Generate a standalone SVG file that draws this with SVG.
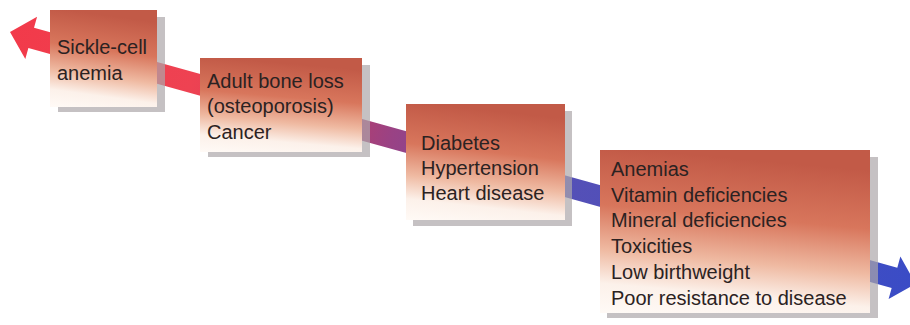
<svg xmlns="http://www.w3.org/2000/svg" width="910" height="325" viewBox="0 0 910 325">
<defs>
<linearGradient id="arrowGrad" gradientUnits="userSpaceOnUse" x1="0" y1="0" x2="940" y2="0">
<stop offset="0" stop-color="#f23a4a"/>
<stop offset="0.2" stop-color="#ee4252"/>
<stop offset="0.33" stop-color="#cc3a5a"/>
<stop offset="0.42" stop-color="#9a4284"/>
<stop offset="0.6" stop-color="#5650b6"/>
<stop offset="1" stop-color="#3a4cc6"/>
</linearGradient>
<linearGradient id="boxGrad" x1="0.15" y1="0" x2="0" y2="1">
<stop offset="0" stop-color="#c25a47"/>
<stop offset="0.35" stop-color="#d8765c"/>
<stop offset="0.62" stop-color="#efbaa2"/>
<stop offset="0.82" stop-color="#fcf1ea"/>
<stop offset="1" stop-color="#fffaf6"/>
</linearGradient>
<style>
.box{fill:url(#boxGrad);}
.shadow{fill:#aca6a9;opacity:0.7;}
.label{font-family:"Liberation Sans",Arial,sans-serif;font-size:20px;fill:#2b2222;}
</style>
</defs>
<g id="connectors">
<polygon transform="translate(10,32) rotate(15.53)" fill="url(#arrowGrad)" points="0,0 22,-22 22,-10.5 918,-10.5 918,-22 940,0 918,22 918,10.5 22,10.5 22,22"/>
</g>
<g id="node-sickle">
<rect class="shadow" x="58" y="17" width="107" height="95"/>
<rect class="box" x="50" y="10" width="107" height="97"/>
<text class="label" x="57" y="54">Sickle-cell</text>
<text class="label" x="57" y="80">anemia</text>
</g>
<g id="node-bone">
<rect class="shadow" x="208" y="65" width="162" height="92"/>
<rect class="box" x="200" y="58" width="162" height="94"/>
<text class="label" x="207" y="88">Adult bone loss</text>
<text class="label" x="207" y="113">(osteoporosis)</text>
<text class="label" x="207" y="139">Cancer</text>
</g>
<g id="node-diabetes">
<rect class="shadow" x="413" y="111" width="159" height="115"/>
<rect class="box" x="406" y="104" width="159" height="116"/>
<text class="label" x="421" y="150">Diabetes</text>
<text class="label" x="421" y="175">Hypertension</text>
<text class="label" x="421" y="200">Heart disease</text>
</g>
<g id="node-anemias">
<rect class="shadow" x="607" y="157" width="271" height="161"/>
<rect class="box" x="600" y="150" width="270" height="163"/>
<text class="label" x="611" y="176">Anemias</text>
<text class="label" x="611" y="202">Vitamin deficiencies</text>
<text class="label" x="611" y="227">Mineral deficiencies</text>
<text class="label" x="611" y="253">Toxicities</text>
<text class="label" x="611" y="279">Low birthweight</text>
<text class="label" x="611" y="305">Poor resistance to disease</text>
</g>
</svg>
